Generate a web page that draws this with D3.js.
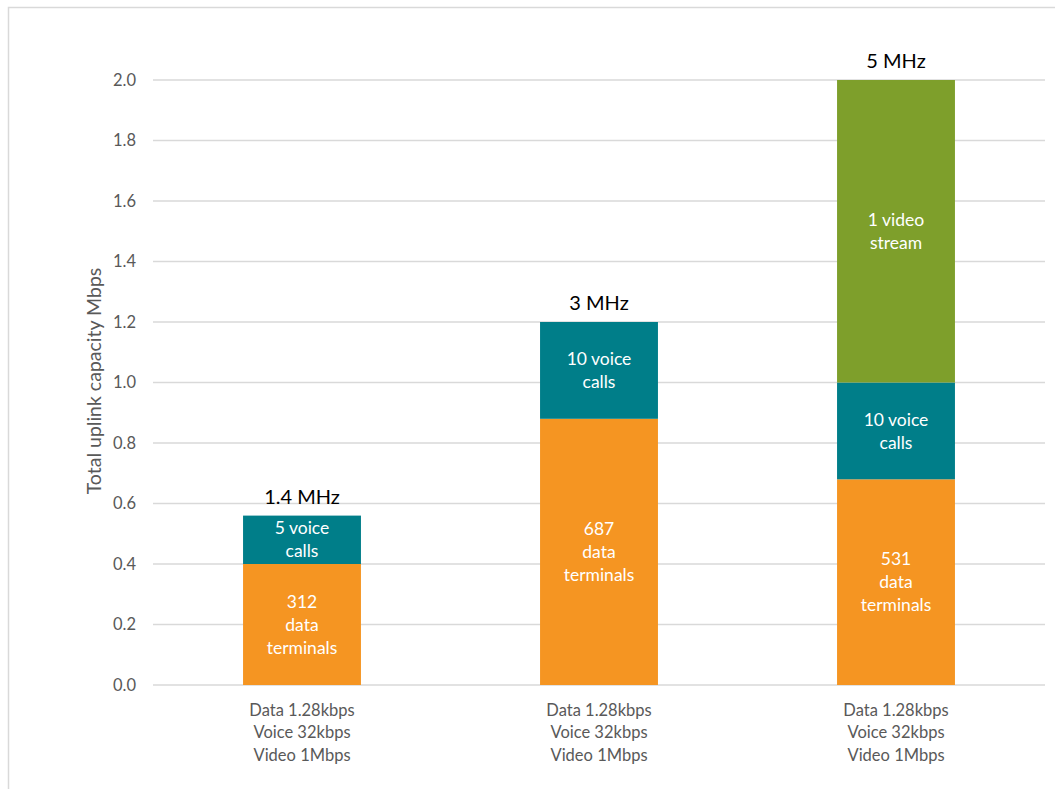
<!DOCTYPE html>
<html>
<head>
<meta charset="utf-8">
<script src="https://cdn.jsdelivr.net/npm/d3@7"></script>
<style>
  html, body { margin: 0; padding: 0; background: #fff; }
  svg { display: block; }
  text { font-family: Lato, "Open Sans", "Liberation Sans", sans-serif; }
</style>
</head>
<body>
<svg id="chart" width="1055" height="789"></svg>
<script>
// Channel bandwidths (one stacked column each)
const categories = ["1.4 MHz", "3 MHz", "5 MHz"];
const axisLabelLines = ["Data 1.28kbps", "Voice 32kbps", "Video 1Mbps"];

// Uplink capacity used by each traffic type, Mbps
const dataMbps  = [0.40, 0.88, 0.68];
const voiceMbps = [0.16, 0.32, 0.32];
const videoMbps = [0.00, 0.00, 1.00];

// Text written inside each segment
const dataLabels  = [["312", "data", "terminals"], ["687", "data", "terminals"], ["531", "data", "terminals"]];
const voiceLabels = [["5 voice", "calls"], ["10 voice", "calls"], ["10 voice", "calls"]];
const videoLabels = [[], [], ["1 video", "stream"]];

const yTicks = [0, 0.2, 0.4, 0.6, 0.8, 1.0, 1.2, 1.4, 1.6, 1.8, 2.0];

const seriesKeys = ["data", "voice", "video"];
const colors = { data: "#f59522", voice: "#007e89", video: "#7e9f2b" };
const segLabels = { data: dataLabels, voice: voiceLabels, video: videoLabels };

const rows = categories.map((c, i) => ({
  cat: c, data: dataMbps[i], voice: voiceMbps[i], video: videoMbps[i]
}));

const svg = d3.select("#chart");

// Outer chart frame
svg.append("rect")
  .attr("x", 8.5).attr("y", 7.5)
  .attr("width", 1100).attr("height", 900)
  .attr("fill", "none").attr("stroke", "#d9d9d9").attr("stroke-width", 1.5);

const x = d3.scaleBand()
  .domain(categories)
  .range([153.5, 1044.5])
  .paddingInner(0.603)
  .paddingOuter(0.3015);

const y = d3.scaleLinear().domain([0, 2.0]).range([685, 80]);

// Gridlines
svg.append("g")
  .selectAll("line")
  .data(yTicks)
  .join("line")
  .attr("x1", 153).attr("x2", 1045)
  .attr("y1", d => y(d)).attr("y2", d => y(d))
  .attr("stroke", "#d9d9d9").attr("stroke-width", 1.5);

// Y axis tick labels
const yAxis = d3.axisLeft(y)
  .tickValues(yTicks)
  .tickFormat(d3.format(".1f"))
  .tickSize(0)
  .tickPadding(17);
const yg = svg.append("g").attr("transform", "translate(153,0)").call(yAxis);
yg.select(".domain").remove();
yg.selectAll("text")
  .attr("fill", "#595959")
  .style("font-size", "16.5px");

// Y axis title
svg.append("text")
  .attr("transform", "translate(101,381) rotate(-90)")
  .attr("text-anchor", "middle")
  .attr("fill", "#595959")
  .style("font-size", "19.5px")
  .text("Total uplink capacity Mbps");

// Stacked columns
const stacked = d3.stack().keys(seriesKeys)(rows);

const layer = svg.append("g")
  .selectAll("g")
  .data(stacked)
  .join("g")
  .attr("fill", d => colors[d.key]);

layer.selectAll("rect")
  .data(d => d.map(s => ({ s, key: d.key })))
  .join("rect")
  .attr("x", d => x(d.s.data.cat))
  .attr("width", x.bandwidth())
  .attr("y", d => y(d.s[1]))
  .attr("height", d => y(d.s[0]) - y(d.s[1]));

// Labels inside segments
const lineH = 23;
stacked.forEach(ser => {
  ser.forEach((s, i) => {
    const lines = segLabels[ser.key][i];
    if (!lines.length || s[1] - s[0] <= 0) return;
    const cy = (y(s[0]) + y(s[1])) / 2;
    const t = svg.append("text")
      .attr("text-anchor", "middle")
      .attr("fill", "#ffffff")
      .style("font-size", "17.5px");
    lines.forEach((ln, k) => {
      t.append("tspan")
        .attr("x", x(s.data.cat) + x.bandwidth() / 2)
        .attr("y", cy + (k - (lines.length - 1) / 2) * lineH)
        .attr("dy", "0.35em")
        .text(ln);
    });
  });
});

// Bandwidth labels above each column
svg.append("g")
  .selectAll("text")
  .data(rows)
  .join("text")
  .attr("x", d => x(d.cat) + x.bandwidth() / 2)
  .attr("y", d => y(d.data + d.voice + d.video) - 12)
  .attr("text-anchor", "middle")
  .attr("fill", "#000000")
  .style("font-size", "20px")
  .text(d => d.cat);

// Category axis labels (three lines under each column)
categories.forEach(c => {
  const t = svg.append("text")
    .attr("text-anchor", "middle")
    .attr("fill", "#595959")
    .style("font-size", "16.5px");
  axisLabelLines.forEach((ln, k) => {
    t.append("tspan")
      .attr("x", x(c) + x.bandwidth() / 2)
      .attr("y", 710 + k * 22.5)
      .attr("dy", "0.35em")
      .text(ln);
  });
});
</script>
</body>
</html>
